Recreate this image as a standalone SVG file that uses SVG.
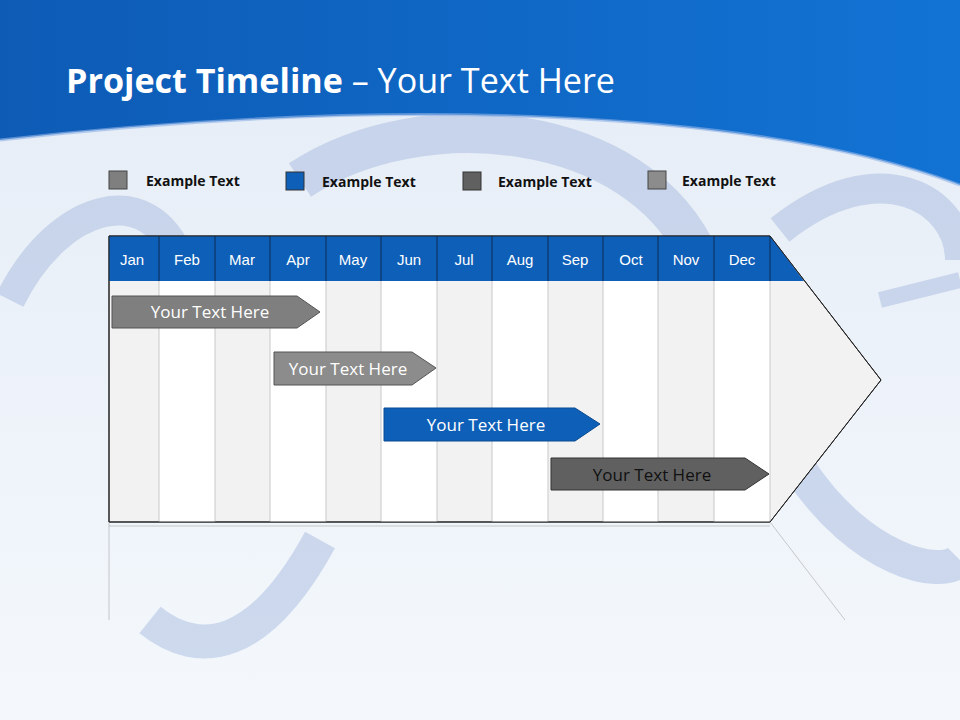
<svg xmlns="http://www.w3.org/2000/svg" width="960" height="720" viewBox="0 0 960 720">
<defs>
<linearGradient id="bg" x1="0" y1="0" x2="0" y2="1"><stop offset="0" stop-color="#e4ecf6"/><stop offset="1" stop-color="#f4f8fc"/></linearGradient>
<linearGradient id="top" x1="0" y1="0" x2="1" y2="0"><stop offset="0" stop-color="#0d5bb5"/><stop offset="1" stop-color="#1273d4"/></linearGradient>
<style>
.leg{font-family:"Open Sans","Liberation Sans",sans-serif;font-weight:bold;font-size:14px;fill:#111}
.mon{font-family:"Liberation Sans",Arial,sans-serif;font-size:15px;fill:#fff;text-anchor:middle}
.bar{font-family:"Open Sans","Liberation Sans",sans-serif;font-size:17px;text-anchor:middle}
.col{stroke:#c8c8c8;stroke-width:1}
.hcol{stroke:#0a2a55;stroke-width:1}
.deco{fill:none;stroke:#9fb4dc;stroke-opacity:0.45}
</style>
</defs>
<rect width="960" height="720" fill="url(#bg)"/>
<g id="decor">
<path class="deco" d="M300 180 C 420 100 640 120 700 260" stroke-width="40"/>
<path class="deco" d="M780 230 C 880 150 960 200 960 260" stroke-width="30" stroke="#a6b0c0"/>
<path class="deco" d="M10 300 C 60 200 150 180 180 260" stroke-width="30"/>
<path class="deco" d="M320 540 C 260 650 200 660 150 620" stroke-width="34" stroke="#b0b8c4"/>
<path class="deco" d="M800 470 C 860 560 940 580 960 560" stroke-width="34" stroke="#b0b8c4"/>
<path class="deco" d="M880 300 L960 280" stroke-width="16" stroke="#6f95e0"/>
</g>
<path d="M0 0 H960 V185 C 760 110 400 95 0 140 Z" fill="url(#top)"/>
<path d="M0 140 C 400 95 760 110 960 185" fill="none" stroke="#8fb3e6" stroke-width="3" opacity="0.6"/>
<text x="66" y="93" font-family="Open Sans, Liberation Sans, sans-serif" font-size="34" fill="#fff" textLength="549" lengthAdjust="spacingAndGlyphs"><tspan font-weight="bold">Project Timeline</tspan> – Your Text Here</text>
<g id="legend">
<rect x="109" y="171" width="18" height="18" fill="#7f7f7f" stroke="#444"/><text class="leg" x="146" y="186">Example Text</text>
<rect x="286" y="172" width="18" height="18" fill="#0e5fb8" stroke="#333"/><text class="leg" x="322" y="187">Example Text</text>
<rect x="463" y="172" width="18" height="18" fill="#606060" stroke="#333"/><text class="leg" x="498" y="187">Example Text</text>
<rect x="648" y="171" width="18" height="18" fill="#8c8c8c" stroke="#444"/><text class="leg" x="682" y="186">Example Text</text>
</g>
<g id="chart">
<path d="M109 236 H770 L881 380 L770 522 H109 Z" fill="#f2f2f2" stroke="#222"/>
<g fill="#fff">
<rect x="159" y="281" width="56" height="241"/><rect x="270" y="281" width="56" height="241"/><rect x="381" y="281" width="56" height="241"/><rect x="492" y="281" width="56" height="241"/><rect x="603" y="281" width="55" height="241"/><rect x="714" y="281" width="56" height="241"/>
</g>
<g class="col">
<line x1="159" y1="281" x2="159" y2="522"/><line x1="215" y1="281" x2="215" y2="522"/><line x1="270" y1="281" x2="270" y2="522"/><line x1="326" y1="281" x2="326" y2="522"/><line x1="381" y1="281" x2="381" y2="522"/><line x1="437" y1="281" x2="437" y2="522"/><line x1="492" y1="281" x2="492" y2="522"/><line x1="548" y1="281" x2="548" y2="522"/><line x1="603" y1="281" x2="603" y2="522"/><line x1="658" y1="281" x2="658" y2="522"/><line x1="714" y1="281" x2="714" y2="522"/><line x1="770" y1="281" x2="770" y2="522"/>
</g>
<path d="M109 236 H770 L804 281 H109 Z" fill="#0e5fb8"/>
<g class="hcol">
<line x1="159" y1="236" x2="159" y2="281"/><line x1="215" y1="236" x2="215" y2="281"/><line x1="270" y1="236" x2="270" y2="281"/><line x1="326" y1="236" x2="326" y2="281"/><line x1="381" y1="236" x2="381" y2="281"/><line x1="437" y1="236" x2="437" y2="281"/><line x1="492" y1="236" x2="492" y2="281"/><line x1="548" y1="236" x2="548" y2="281"/><line x1="603" y1="236" x2="603" y2="281"/><line x1="658" y1="236" x2="658" y2="281"/><line x1="714" y1="236" x2="714" y2="281"/><line x1="770" y1="236" x2="770" y2="281"/>
</g>
<path d="M109 236 H770 L881 380 L770 522 H109 Z" fill="none" stroke="#222"/>
<text class="mon" x="132" y="265">Jan</text><text class="mon" x="187" y="265">Feb</text><text class="mon" x="242" y="265">Mar</text><text class="mon" x="298" y="265">Apr</text><text class="mon" x="353" y="265">May</text><text class="mon" x="409" y="265">Jun</text><text class="mon" x="464" y="265">Jul</text><text class="mon" x="520" y="265">Aug</text><text class="mon" x="575" y="265">Sep</text><text class="mon" x="631" y="265">Oct</text><text class="mon" x="686" y="265">Nov</text><text class="mon" x="742" y="265">Dec</text>
</g>
<g id="reflection" stroke="#999" stroke-opacity="0.5" fill="none">
<line x1="109" y1="522" x2="109" y2="620"/>
<line x1="770" y1="522" x2="845" y2="620"/>
<line x1="109" y1="526" x2="770" y2="526"/>
</g>
<g id="bar1"><path d="M112 296 H297 L320 312 L297 328 H112 Z" fill="#7f7f7f" stroke="#555"/><text class="bar" x="210" y="318" fill="#fff">Your  Text Here</text></g>
<g id="bar2"><path d="M274 352 H412 L436 368 L412 385 H274 Z" fill="#8c8c8c" stroke="#555"/><text class="bar" x="348" y="375" fill="#fff">Your  Text Here</text></g>
<g id="bar3"><path d="M384 408 H575 L600 424 L575 441 H384 Z" fill="#0e5fb8" stroke="#0b4a90"/><text class="bar" x="486" y="431" fill="#fff">Your  Text Here</text></g>
<g id="bar4"><path d="M551 458 H745 L769 474 L745 490 H551 Z" fill="#606060" stroke="#333"/><text class="bar" x="652" y="481" fill="#111">Your  Text Here</text></g>
</svg>
